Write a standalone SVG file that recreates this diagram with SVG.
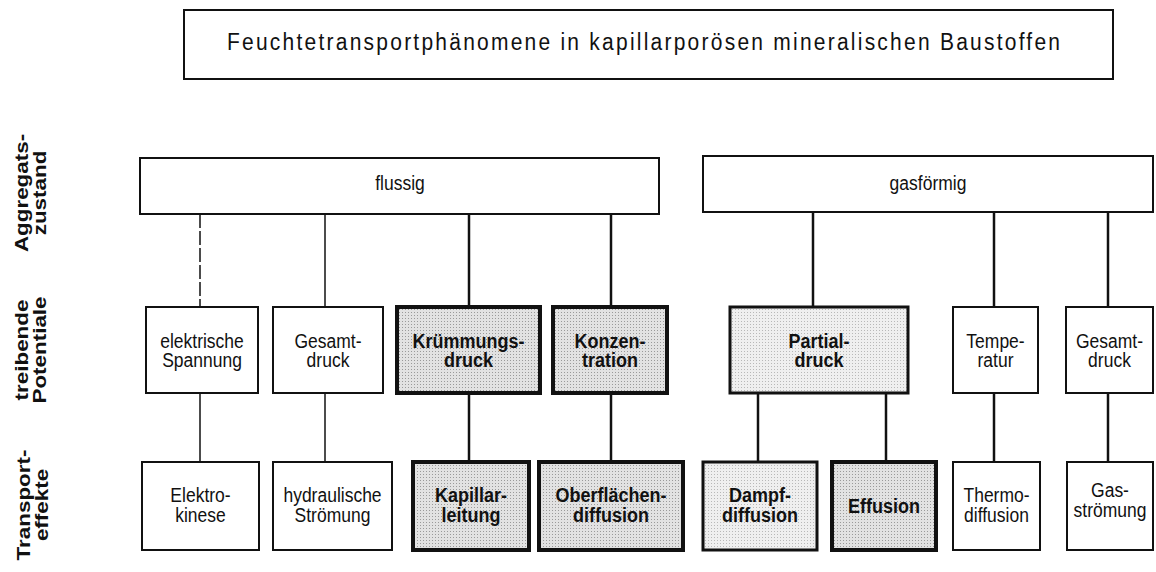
<svg xmlns="http://www.w3.org/2000/svg" width="1156" height="572" viewBox="0 0 1156 572">
<defs>
<pattern id="stip" width="3" height="3" patternUnits="userSpaceOnUse"><rect width="3" height="3" fill="#e2e2e2"/><rect width="1" height="1" fill="#9a9a9a"/></pattern>
<pattern id="stipL" width="3" height="3" patternUnits="userSpaceOnUse"><rect width="3" height="3" fill="#efefef"/><rect width="1" height="1" fill="#b8b8b8"/></pattern>
<style>
.box{fill:#fff;stroke:#111;stroke-width:2}
.sh{fill:url(#stip);stroke:#111;stroke-width:4}
.shl{fill:url(#stipL);stroke:#111;stroke-width:3}
.t{font-family:"Liberation Sans",Arial,sans-serif;font-size:17.5px;fill:#111;text-anchor:middle}
.b{font-weight:bold;font-size:18px}
.side{font-family:"Liberation Sans",Arial,sans-serif;font-size:19px;font-weight:bold;fill:#111;text-anchor:middle}
.c{stroke:#111;stroke-width:1.5;fill:none}
.ck{stroke:#111;stroke-width:2.5;fill:none}
</style>
</defs>
<rect width="1156" height="572" fill="#fff"/>

<g id="title">
<rect class="box" x="184" y="10" width="929" height="69"/>
<text class="t" style="font-size:21px;text-anchor:start" transform="matrix(1 0 0 1.15 227 50)" textLength="833" lengthAdjust="spacing">Feuchtetransportphänomene in kapillarporösen mineralischen Baustoffen</text>
</g>

<g id="side-labels">
<text class="side" transform="translate(28 193) rotate(-90) scale(1.18 1)"><tspan x="0" y="0">Aggregats-</tspan><tspan x="0" y="18">zustand</tspan></text>
<text class="side" transform="translate(28 350) rotate(-90) scale(1.18 1)"><tspan x="0" y="0">treibende</tspan><tspan x="0" y="18">Potentiale</tspan></text>
<text class="side" transform="translate(30 505) rotate(-90) scale(1.18 1)"><tspan x="0" y="0">Transport-</tspan><tspan x="0" y="18">effekte</tspan></text>
</g>

<g id="connectors">
<line class="c" x1="200" y1="214" x2="200" y2="307" stroke-dasharray="14 3"/>
<line class="c" x1="325" y1="214" x2="325" y2="307"/>
<line class="ck" x1="469" y1="214" x2="469" y2="307"/>
<line class="ck" x1="611" y1="214" x2="611" y2="307"/>
<line class="ck" x1="813" y1="212" x2="813" y2="307"/>
<line class="ck" x1="994" y1="212" x2="994" y2="307"/>
<line class="ck" x1="1108" y1="212" x2="1108" y2="307"/>
<line class="c" x1="200" y1="393" x2="200" y2="462"/>
<line class="c" x1="325" y1="393" x2="325" y2="462"/>
<line class="ck" x1="469" y1="393" x2="469" y2="462"/>
<line class="ck" x1="611" y1="393" x2="611" y2="462"/>
<line class="ck" x1="758" y1="393" x2="758" y2="462"/>
<line class="ck" x1="886" y1="393" x2="886" y2="462"/>
<line class="ck" x1="994" y1="393" x2="994" y2="462"/>
<line class="ck" x1="1108" y1="393" x2="1108" y2="462"/>
</g>

<g id="flussig">
<rect class="box" x="140" y="158" width="519" height="56"/>
<text class="t" transform="matrix(1 0 0 1.15 400 190)">flussig</text>
</g>
<g id="gasfoermig">
<rect class="box" x="703" y="156" width="450" height="56"/>
<text class="t" transform="matrix(1 0 0 1.15 928 190)">gasförmig</text>
</g>

<g id="elektrische-spannung">
<rect class="box" x="146" y="307" width="112" height="86"/>
<text class="t" transform="matrix(1 0 0 1.15 202 348)"><tspan x="0" y="0">elektrische</tspan><tspan x="0" y="16.5">Spannung</tspan></text>
</g>
<g id="gesamtdruck-fl">
<rect class="box" x="273" y="307" width="110" height="86"/>
<text class="t" transform="matrix(1 0 0 1.15 328 348)"><tspan x="0" y="0">Gesamt-</tspan><tspan x="0" y="16.5">druck</tspan></text>
</g>
<g id="kruemmungsdruck">
<rect class="sh" x="397" y="307" width="143" height="86"/>
<text class="t b" transform="matrix(1 0 0 1.15 468.5 348)"><tspan x="0" y="0">Krümmungs-</tspan><tspan x="0" y="16.5">druck</tspan></text>
</g>
<g id="konzentration">
<rect class="sh" x="553" y="307" width="114" height="86"/>
<text class="t b" transform="matrix(1 0 0 1.15 610 348)"><tspan x="0" y="0">Konzen-</tspan><tspan x="0" y="16.5">tration</tspan></text>
</g>
<g id="partialdruck">
<rect class="shl" x="730" y="307" width="178" height="86"/>
<text class="t b" transform="matrix(1 0 0 1.15 819 348)"><tspan x="0" y="0">Partial-</tspan><tspan x="0" y="16.5">druck</tspan></text>
</g>
<g id="temperatur">
<rect class="box" x="953" y="307" width="85" height="86"/>
<text class="t" transform="matrix(1 0 0 1.15 995.5 348)"><tspan x="0" y="0">Tempe-</tspan><tspan x="0" y="16.5">ratur</tspan></text>
</g>
<g id="gesamtdruck-gas">
<rect class="box" x="1066" y="307" width="87" height="86"/>
<text class="t" transform="matrix(1 0 0 1.15 1109.5 348)"><tspan x="0" y="0">Gesamt-</tspan><tspan x="0" y="16.5">druck</tspan></text>
</g>

<g id="elektrokinese">
<rect class="box" x="142" y="462" width="117" height="88"/>
<text class="t" transform="matrix(1 0 0 1.15 200.5 502)"><tspan x="0" y="0">Elektro-</tspan><tspan x="0" y="17">kinese</tspan></text>
</g>
<g id="hydraulische-stroemung">
<rect class="box" x="273" y="462" width="119" height="88"/>
<text class="t" transform="matrix(1 0 0 1.15 332.5 502)"><tspan x="0" y="0">hydraulische</tspan><tspan x="0" y="17">Strömung</tspan></text>
</g>
<g id="kapillarleitung">
<rect class="sh" x="413" y="462" width="116" height="88"/>
<text class="t b" transform="matrix(1 0 0 1.15 471 502)"><tspan x="0" y="0">Kapillar-</tspan><tspan x="0" y="17">leitung</tspan></text>
</g>
<g id="oberflaechendiffusion">
<rect class="sh" x="539" y="462" width="144" height="88"/>
<text class="t b" transform="matrix(1 0 0 1.15 611 502)"><tspan x="0" y="0">Oberflächen-</tspan><tspan x="0" y="17">diffusion</tspan></text>
</g>
<g id="dampfdiffusion">
<rect class="shl" x="703" y="462" width="114" height="88"/>
<text class="t b" transform="matrix(1 0 0 1.15 760 502)"><tspan x="0" y="0">Dampf-</tspan><tspan x="0" y="17">diffusion</tspan></text>
</g>
<g id="effusion">
<rect class="sh" x="832" y="462" width="104" height="88"/>
<text class="t b" transform="matrix(1 0 0 1.15 884 513)">Effusion</text>
</g>
<g id="thermodiffusion">
<rect class="box" x="953" y="462" width="87" height="88"/>
<text class="t" transform="matrix(1 0 0 1.15 996.5 502)"><tspan x="0" y="0">Thermo-</tspan><tspan x="0" y="17">diffusion</tspan></text>
</g>
<g id="gasstroemung">
<rect class="box" x="1067" y="462" width="86" height="88"/>
<text class="t" transform="matrix(1 0 0 1.15 1110 497)"><tspan x="0" y="0">Gas-</tspan><tspan x="0" y="17">strömung</tspan></text>
</g>
</svg>
